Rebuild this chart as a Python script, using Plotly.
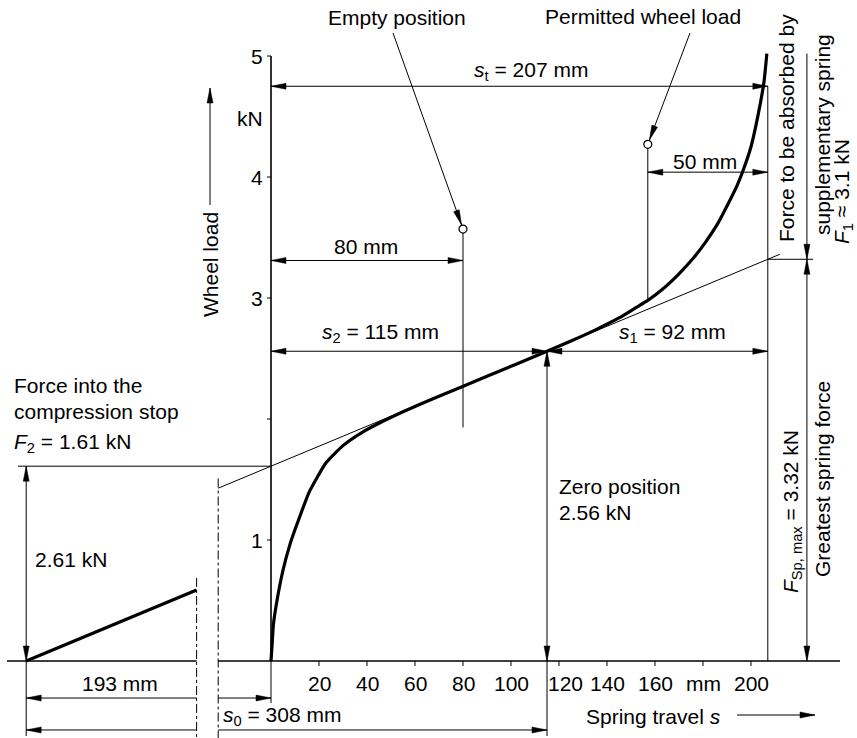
import math
import plotly.graph_objects as go

# ---- spring characteristic: travel s (mm) against wheel load F (kN) ----
travel = [0, 0.5, 1, 2.5, 5, 8, 11, 16, 23, 30, 38, 46, 55, 70, 90, 115,
          125, 135, 145, 152, 157, 163, 170, 176, 181, 186, 190, 194, 197, 200, 202, 204, 205.5, 206.6]
load = [0, 0.15, 0.3, 0.5, 0.75, 0.97, 1.14, 1.40, 1.64, 1.78, 1.89, 1.975, 2.06, 2.188, 2.353, 2.56,
        2.645, 2.735, 2.835, 2.92, 2.98, 3.07, 3.20, 3.33, 3.46, 3.61, 3.76, 3.92, 4.07, 4.25, 4.42, 4.62, 4.80, 5.02]

# ---- characteristic values ----
s_total = 207      # s_t
s_zero = 115       # s_2, zero position
s_perm = 157       # permitted wheel load position (s_t - 50)
s_empty = 80       # empty position
F_zero = 2.56      # load at zero position
F_2 = 1.61         # force into the compression stop
F_sp_max = 3.32    # greatest spring force
F_top = 5.02       # load at full travel
F_empty_mark = 3.57
F_perm_mark = 4.27
F_empty_low = 1.93
F_perm_low = 2.98

# broken travel axis to the left of the y axis (drawing units)
s_stop_drawn = -102
break_left = -31
break_right = -22

# axis ticks
y_ticks = [1, 2, 3, 4, 5]
y_tick_text = ["1", "", "3", "4", "5"]
x_ticks = [20, 40, 60, 80, 100, 120, 140, 160, 180, 200]
x_tick_text = ["20", "40", "60", "80", "100", "120", "140", "160", "mm", "200"]

# dimension line levels (kN) and side positions (mm)
lvl_st, lvl_50, lvl_80 = 4.75, 4.04, 3.31
lvl_193, lvl_s0 = -0.306, -0.57
x_force_dim = 223.3

# ---- drawing scale (pixels per unit) ----
PX0, PXS = 271, 2.4
PY0, PYS = 661, 121
W, H = 857, 738

def to_px(x, y):
    return PX0 + PXS * x, PY0 - PYS * y

def from_px(px, py):
    return (px - PX0) / PXS, (PY0 - py) / PYS

slope = (F_zero - F_2) / s_zero
def tangent(s):
    return F_2 + slope * s

thin_x, thin_y = [], []
def seg(x0, y0, x1, y1):
    thin_x.extend([x0, x1, None])
    thin_y.extend([y0, y1, None])

head_x, head_y = [], []
def head(tip, tail, L=15, Wd=3.0, back=0):
    tx, ty = to_px(*tip)
    fx, fy = to_px(*tail)
    dx, dy = tx - fx, ty - fy
    n = math.hypot(dx, dy)
    dx, dy = dx / n, dy / n
    tx, ty = tx - back * dx, ty - back * dy
    bx, by = tx - L * dx, ty - L * dy
    pts = [(tx, ty), (bx - Wd * dy, by + Wd * dx), (bx + Wd * dy, by - Wd * dx), (tx, ty)]
    for p in pts:
        x, y = from_px(*p)
        head_x.append(x)
        head_y.append(y)
    head_x.append(None)
    head_y.append(None)

def dim_h(x0, x1, y, left=True, right=True):
    seg(x0, y, x1, y)
    if left:
        head((x0, y), (x1, y))
    if right:
        head((x1, y), (x0, y))

def dim_v(x, y0, y1, low=True, high=True):
    seg(x, y0, x, y1)
    if low:
        head((x, y0), (x, y1))
    if high:
        head((x, y1), (x, y0))

bottom = from_px(0, 736)[1]
page_bottom = from_px(0, H)[1]

# tangent through the zero position
seg(break_right, tangent(break_right), 212, tangent(212))
seg(from_px(18, 0)[0], F_2, 0, F_2)
# positions marked on the curve
seg(s_empty, F_empty_mark, s_empty, F_empty_low)
seg(s_perm, F_perm_mark, s_perm, F_perm_low)
# extension lines
seg(s_total, 0, s_total, lvl_st)
seg(s_zero, bottom, s_zero, 0)
seg(s_stop_drawn, bottom, s_stop_drawn, 0)
seg(0, 0, 0, from_px(0, 703)[1])
seg(s_total, F_sp_max, from_px(813, 0)[0], F_sp_max)

# dimensions
dim_h(0, s_total, lvl_st)
dim_h(s_perm, s_total, lvl_50)
dim_h(0, s_empty, lvl_80)
dim_h(0, s_zero, F_zero)
dim_h(s_zero, s_total, F_zero)
dim_v(s_zero, 0, F_zero)
dim_v(s_stop_drawn, 0, F_2)
dim_h(s_stop_drawn, break_left, lvl_193, right=False)
dim_h(break_right, 0, lvl_193, left=False)
dim_h(s_stop_drawn, break_left, lvl_s0, right=False)
dim_h(break_right, s_zero, lvl_s0, left=False)
dim_v(x_force_dim, F_sp_max, F_top, low=True, high=False)
dim_v(x_force_dim, 0, F_sp_max)

# leaders to the marked positions
lead_empty = from_px(393, 33)
lead_perm = from_px(690, 33)
seg(lead_empty[0], lead_empty[1], s_empty, F_empty_mark)
head((s_empty, F_empty_mark), lead_empty, back=4.5)
seg(lead_perm[0], lead_perm[1], s_perm, F_perm_mark)
head((s_perm, F_perm_mark), lead_perm, back=4.5)

# axis direction arrows
ax0, ay0 = from_px(737, 715)
ax1, _ = from_px(815, 715)
seg(ax0, ay0, ax1, ay0)
head((ax1, ay0), (ax0, ay0))
wx, wy0 = from_px(210, 205)
_, wy1 = from_px(210, 88)
seg(wx, wy0, wx, wy1)
head((wx, wy1), (wx, wy0))

# ticks
tick_len_x = 4 / PXS
tick_len_y = 5 / PYS
for t in y_ticks:
    seg(-tick_len_x, t, 0, t)
for t in x_ticks:
    seg(t, 0, t, -tick_len_y)

fig = go.Figure()
fig.add_trace(go.Scatter(x=thin_x, y=thin_y, mode="lines",
                         line=dict(color="black", width=1), hoverinfo="skip"))
# axes
fig.add_trace(go.Scatter(x=[from_px(7, 0)[0], break_left, None, break_right, from_px(840, 0)[0], None, 0, 0],
                         y=[0, 0, None, 0, 0, None, 0, 5], mode="lines",
                         line=dict(color="black", width=1.6), hoverinfo="skip"))
# broken-axis dash-dot lines
stop_line_end = slope * (break_left - s_stop_drawn)
fig.add_trace(go.Scatter(x=[break_left, break_left, None, break_right, break_right],
                         y=[stop_line_end + 0.1, page_bottom, None, tangent(break_right) + 0.08, page_bottom],
                         mode="lines", line=dict(color="black", width=1, dash="dashdot"), hoverinfo="skip"))
# spring characteristic
fig.add_trace(go.Scatter(x=travel, y=load, mode="lines",
                         line=dict(color="black", width=3.2, shape="spline", smoothing=0.5),
                         hoverinfo="skip"))
fig.add_trace(go.Scatter(x=[s_stop_drawn, break_left], y=[0, stop_line_end], mode="lines",
                         line=dict(color="black", width=3.2), hoverinfo="skip"))
# arrowheads
fig.add_trace(go.Scatter(x=head_x, y=head_y, mode="lines", fill="toself", fillcolor="black",
                         line=dict(color="black", width=0.5), hoverinfo="skip"))
# marked positions
fig.add_trace(go.Scatter(x=[s_empty, s_perm], y=[F_empty_mark, F_perm_mark], mode="markers",
                         marker=dict(symbol="circle", size=8, color="white", line=dict(color="black", width=1.2)),
                         hoverinfo="skip"))

FONT = dict(family="Liberation Sans, Arial, sans-serif", size=21, color="black")

def text(x, y, s, xanchor="center", yanchor="middle", angle=0, **kw):
    fig.add_annotation(x=x, y=y, text=s, showarrow=False, xanchor=xanchor, yanchor=yanchor,
                       textangle=angle, font=FONT, **kw)

def text_px(px, py, s, **kw):
    x, y = from_px(px, py)
    text(x, y, s, **kw)

# tick labels
for t, lab in zip(y_ticks, y_tick_text):
    if lab:
        text(from_px(265, 0)[0], t, lab, xanchor="right")
text_px(265, 118, "kN", xanchor="right")
for t, lab in zip(x_ticks, x_tick_text):
    text(t, from_px(0, 683)[1], lab, xshift=6 if t == 120 else 0)

text_px(397, 17, "Empty position")
text_px(643, 16, "Permitted wheel load")
text_px(531, 71, "<i>s</i><sub>t</sub> = 207 mm")
text_px(705, 161, "50 mm")
text_px(366, 246, "80 mm")
text_px(380, 333, "<i>s</i><sub>2</sub> = 115 mm")
text_px(672, 333, "<i>s</i><sub>1</sub> = 92 mm")
text_px(557, 486, "Zero position", xanchor="left")
text_px(557, 512, "2.56 kN", xanchor="left")
text_px(12, 385, "Force into the", xanchor="left")
text_px(12, 411, "compression stop", xanchor="left")
text_px(12, 443, "<i>F</i><sub>2</sub> = 1.61 kN", xanchor="left")
text_px(33, 559, "2.61 kN", xanchor="left")
text_px(120, 683, "193 mm")
text_px(282, 716, "<i>s</i><sub>0</sub> = 308 mm")
text_px(653, 716, "Spring travel <i>s</i>")
text_px(210, 265, "Wheel load", angle=-90)
text_px(786, 128, "Force to be absorbed by", angle=-90)
text_px(822, 135, "supplementary spring", angle=-90)
text_px(843, 192, "<i>F</i><sub>1</sub> ≈ 3.1 kN", angle=-90)
text_px(792, 512, "<i>F</i><sub>Sp, max</sub> = 3.32 kN", angle=-90)
text_px(822, 479, "Greatest spring force", angle=-90)

fig.update_layout(width=W, height=H, margin=dict(l=0, r=0, t=0, b=0),
                  paper_bgcolor="white", plot_bgcolor="white", showlegend=False)
fig.update_xaxes(range=[from_px(0, 0)[0], from_px(W, 0)[0]], visible=False, fixedrange=True)
fig.update_yaxes(range=[page_bottom, from_px(0, 0)[1]], visible=False, fixedrange=True)

fig.write_html("out.html")
